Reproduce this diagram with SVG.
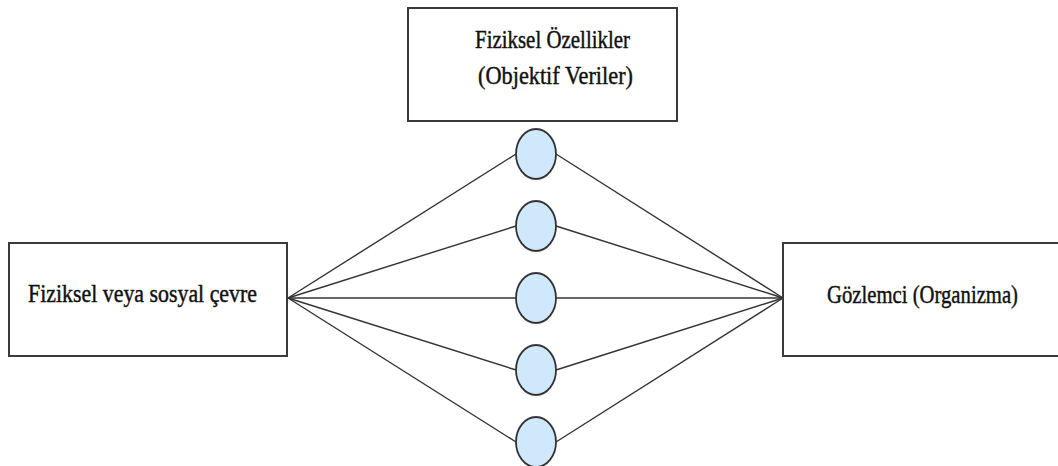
<svg xmlns="http://www.w3.org/2000/svg" width="1058" height="466" viewBox="0 0 1058 466">
<style>
.box{fill:#fff;stroke:#3a3a3a;stroke-width:2}
.node{fill:#cfe8fb;stroke:#333;stroke-width:1.8}
.edge{stroke:#333;stroke-width:1.4;fill:none}
text{font-family:'Liberation Serif','DejaVu Serif',serif;font-size:20px;fill:#111;stroke:#111;stroke-width:0.35px;text-anchor:middle}
</style>
<rect width="1058" height="466" fill="#fff"/>
<g id="connectors">
<line class="edge" x1="288" y1="298" x2="516" y2="154"/>
<line class="edge" x1="288" y1="298" x2="516" y2="226"/>
<line class="edge" x1="288" y1="298" x2="516" y2="298"/>
<line class="edge" x1="288" y1="298" x2="516" y2="370"/>
<line class="edge" x1="288" y1="298" x2="516" y2="442"/>
<line class="edge" x1="556" y1="154" x2="783" y2="298"/>
<line class="edge" x1="556" y1="226" x2="783" y2="298"/>
<line class="edge" x1="556" y1="298" x2="783" y2="298"/>
<line class="edge" x1="556" y1="370" x2="783" y2="298"/>
<line class="edge" x1="556" y1="442" x2="783" y2="298"/>
</g>
<g id="top">
<rect class="box" x="408" y="8" width="269" height="113"/>
<text transform="translate(552.5,48) scale(1,1.25)" textLength="155" lengthAdjust="spacingAndGlyphs">Fiziksel Özellikler</text>
<text transform="translate(555.5,84) scale(1,1.25)" textLength="155" lengthAdjust="spacingAndGlyphs">(Objektif Veriler)</text>
</g>
<g id="left">
<rect class="box" x="9" y="243" width="278" height="113"/>
<text transform="translate(142.5,302) scale(1,1.25)" textLength="229" lengthAdjust="spacingAndGlyphs">Fiziksel veya sosyal çevre</text>
</g>
<g id="right">
<rect class="box" x="783" y="243" width="290" height="113"/>
<text transform="translate(922.5,303) scale(1,1.25)" textLength="191" lengthAdjust="spacingAndGlyphs">Gözlemci (Organizma)</text>
</g>
<g id="n1"><ellipse class="node" cx="536" cy="154" rx="20" ry="25"/></g>
<g id="n2"><ellipse class="node" cx="536" cy="226" rx="20" ry="25"/></g>
<g id="n3"><ellipse class="node" cx="536" cy="298" rx="20" ry="25"/></g>
<g id="n4"><ellipse class="node" cx="536" cy="370" rx="20" ry="25"/></g>
<g id="n5"><ellipse class="node" cx="536" cy="442" rx="20" ry="25"/></g>
</svg>
